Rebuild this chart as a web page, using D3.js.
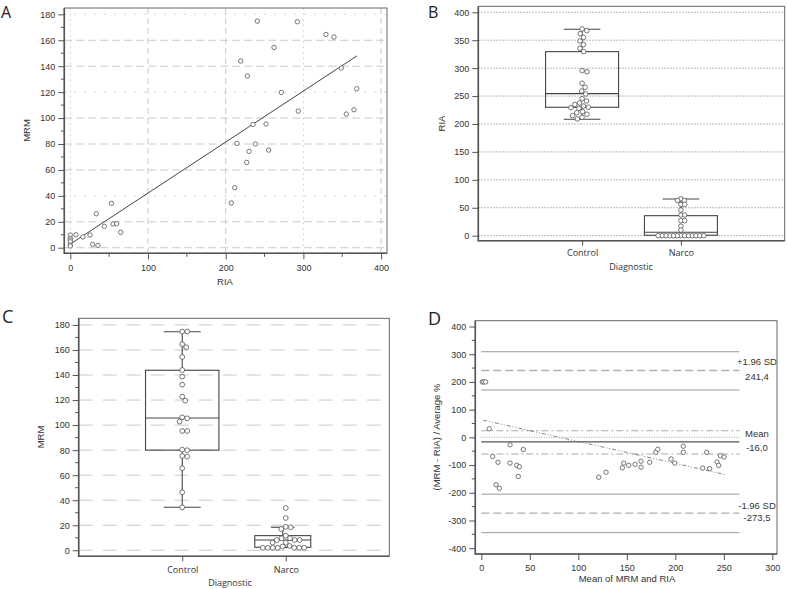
<!DOCTYPE html>
<html><head><meta charset="utf-8">
<script src="https://cdn.jsdelivr.net/npm/d3@7"></script>
<style>body{margin:0;background:#fff}</style>
</head><body>
<svg id="c" width="787" height="589" xmlns="http://www.w3.org/2000/svg"></svg>
<script>
// ---------------- DATA ----------------
// Panel A: scatter MRM vs RIA
const scatterRIA = [240.7,292.2,329,339.4,262.2,219.3,348.8,227.8,368.6,271.6,293.4,365.1,355.2,235.1,251.9,214.5,238.1,230,255.3,227,211.6,207.2,
  52.8,33.5,55,59.7,43.8,64.9,25.4,16.3,7.3,0,0,0,0,0,0,28.8,35.6];
const scatterMRM = [174.8,174.3,164.5,162.5,154.5,144,138.6,132.4,122.6,119.8,105.4,106.4,103.1,95.1,95.4,80.5,80,74.3,75.3,65.8,46.3,34.5,
  34.2,26.2,18.3,18.5,16.5,11.9,9.8,8.3,10,9.8,7.2,5.9,4.6,2.1,1.3,2.6,1.8];
const regA = {x0: 0, y0: 2.8, x1: 369, y1: 148};
const tickA_x = [0,100,200,300,400];
const tickA_y = [0,20,40,60,80,100,120,140,160,180];

// Panel B: RIA by diagnostic
const categories = ["Control","Narco"];
const riaControl = [370,367,361.7,355,348.6,342,335.5,329.5,295.5,293.6,272.9,265.7,259,253.7,245.3,241.2,237.6,235,232,230,229.2,228,222,220,217.4,215,212,209];
const riaNarco = [66,63,63,56,56,46,37,37,27,27,17,10,0,0,0,0,0,0,0,0,0,0,0,0,0];
const riaBox = [ {cat:"Control", min:208.4, q1:229.9, med:254.3, q3:329.5, max:369.6},
                 {cat:"Narco",   min:0,     q1:0.8,   med:6,     q3:35.8,  max:65.7} ];
const tickB_y = [0,50,100,150,200,250,300,350,400];

// Panel C: MRM by diagnostic
const mrmControl = [174.7,174.7,164.6,162.2,154.4,144,138.7,132.3,122.7,119.5,106.2,105.4,102.8,95.3,95.3,80.4,79.9,75.3,74.8,65.5,46.3,34.3];
const mrmNarco = [33.8,25.8,18.7,18.4,17,11.7,9.6,9.6,8.2,8.2,8.2,6.1,6.1,2,2,2,2,2,2,2,3,3.5];
const mrmBox = [ {cat:"Control", min:34.4, q1:80,  med:105.7, q3:143.8, max:174.6},
                 {cat:"Narco",   min:2.4,  q1:2.4, med:8.2,   q3:11.7,  max:18.4} ];
const tickC_y = [0,20,40,60,80,100,120,140,160,180];

// Panel D: Bland-Altman
const baMean = [1,2.5,4.5,8.2,29.6,43.3,11.7,17.2,29.6,36.5,39.2,38.1,15.2,18.6,
  121,128.6,145.4,146.8,152,158.5,164.6,164.6,173.6,179.8,181.9,195.6,199.4,208.2,208.2,228.2,235.4,232.3,243,244.7,246.4,250.2];
const baDiff = [200,200,200,31,-27,-44,-69,-90,-93,-101,-106,-141,-171,-184,
  -144,-126,-110,-93,-101,-97.5,-108,-86,-90,-54,-43,-78,-93,-32,-54,-111,-113,-54,-89,-101,-66,-71];
const baLevels = {ciUpHi:309, upper:241.4, ciUpLo:171, ciMeanHi:24, zero:0, mean:-16.0, ciMeanLo:-60, ciLoHi:-205, lower:-273.5, ciLoLo:-344};
const baLineEnd = 266;
const regD = {x0: 2, y0: 62, x1: 250.5, y1: -133.6};
const tickD_x = [0,50,100,150,200,250,300];
const tickD_y = [-400,-300,-200,-100,0,100,200,300,400];

// ---------------- DRAWING ----------------
const svg = d3.select("#c");
const TICKFONT = "'Liberation Sans', Arial, sans-serif";
const LABFONT = "'Liberation Sans', Arial, sans-serif";
const AX = "#555";
const plain = d => String(d);

function styleAxis(g, fs) {
  g.select(".domain").remove();
  g.selectAll(".tick line").attr("stroke", AX).attr("stroke-width", 1);
  g.selectAll(".tick text").attr("fill", "#333").style("font-family", TICKFONT).style("font-size", (fs||9) + "px");
}
function frame(x0, y0, x1, y1) {
  svg.append("rect").attr("x", x0).attr("y", y0).attr("width", x1 - x0).attr("height", y1 - y0)
    .attr("fill", "none").attr("stroke", "#666").attr("stroke-width", 1);
  svg.append("line").attr("x1", x0).attr("x2", x0).attr("y1", y0).attr("y2", y1 + 0.5).attr("stroke", AX).attr("stroke-width", 1.6);
  svg.append("line").attr("x1", x0 - 0.5).attr("x2", x1).attr("y1", y1).attr("y2", y1).attr("stroke", AX).attr("stroke-width", 1.6);
}
function letter(t, x, y, fs) {
  svg.append("text").attr("x", x).attr("y", y).text(t)
    .style("font-family", "'Open Sans', sans-serif").style("font-size", fs + "px").attr("fill", "#222");
}
function label(t, x, y, rot, font) {
  const el = svg.append("text").text(t).attr("text-anchor", "middle").attr("dominant-baseline", "central")
    .style("font-family", font || LABFONT).style("font-size", font ? "9px" : "9.5px").attr("fill", "#333");
  if (rot) el.attr("transform", `translate(${x},${y}) rotate(-90)`); else el.attr("x", x).attr("y", y);
}
function minorTicks(scale, vals, x, y, orient, len) {
  vals.forEach(v => {
    if (orient === "left") svg.append("line").attr("x1", x - len).attr("x2", x).attr("y1", scale(v)).attr("y2", scale(v)).attr("stroke", AX);
    else svg.append("line").attr("y1", y).attr("y2", y + len).attr("x1", scale(v)).attr("x2", scale(v)).attr("stroke", AX);
  });
}
// beeswarm placement
function dodge(values, yScale, dist) {
  const pts = values.map(v => ({v, y: yScale(v)})).sort((a, b) => a.y - b.y);
  const placed = [];
  for (const p of pts) {
    const cands = [0];
    for (const q of placed) {
      const dy = Math.abs(q.y - p.y);
      if (dy < dist) { const dx = Math.sqrt(dist * dist - dy * dy); cands.push(q.dx + dx, q.dx - dx); }
    }
    cands.sort((a, b) => Math.abs(a) - Math.abs(b));
    for (const c of cands) {
      if (placed.every(q => (q.dx - c) ** 2 + (q.y - p.y) ** 2 >= dist * dist - 1e-6)) { p.dx = c; break; }
    }
    placed.push(p);
  }
  return placed;
}
function circles(data, cx, cy, r) {
  svg.append("g").selectAll("circle").data(data).join("circle")
    .attr("cx", cx).attr("cy", cy).attr("r", r)
    .attr("fill", "#fff").attr("stroke", "#555").attr("stroke-width", 0.8);
}
function boxes(stats, x, y, halfW, capW) {
  const g = svg.append("g").attr("stroke", "#444").attr("fill", "none").attr("stroke-width", 1.1);
  stats.forEach(s => {
    const cx = x(s.cat);
    g.append("line").attr("x1", cx).attr("x2", cx).attr("y1", y(s.max)).attr("y2", y(s.q3));
    g.append("line").attr("x1", cx).attr("x2", cx).attr("y1", y(s.q1)).attr("y2", y(s.min));
    g.append("line").attr("x1", cx - capW).attr("x2", cx + capW).attr("y1", y(s.max)).attr("y2", y(s.max));
    g.append("line").attr("x1", cx - capW).attr("x2", cx + capW).attr("y1", y(s.min)).attr("y2", y(s.min));
    g.append("rect").attr("x", cx - halfW).attr("width", 2 * halfW).attr("y", y(s.q3)).attr("height", y(s.q1) - y(s.q3));
    g.append("line").attr("x1", cx - halfW).attr("x2", cx + halfW).attr("y1", y(s.med)).attr("y2", y(s.med));
  });
}

// ===== Panel A =====
{
  const L = 64.3, R = 387, T = 8, B = 253.3;
  const x = d3.scaleLinear().domain([-7.7, 407.6]).range([L, R]);
  const y = d3.scaleLinear().domain([-4.3, 184.9]).range([B, T]);
  const dottedY = new Set([40, 120, 180]);
  svg.append("g").selectAll("line").data(tickA_y).join("line")
    .attr("x1", L).attr("x2", R).attr("y1", d => y(d)).attr("y2", d => y(d))
    .attr("stroke", "#bdbdbd").attr("stroke-width", 0.8)
    .attr("stroke-dasharray", d => dottedY.has(d) ? "2,8" : "8,4");
  const dottedX = new Set([0, 300]);
  svg.append("g").selectAll("line").data(tickA_x).join("line")
    .attr("y1", T).attr("y2", B).attr("x1", d => x(d)).attr("x2", d => x(d))
    .attr("stroke", "#bdbdbd").attr("stroke-width", 0.8)
    .attr("stroke-dasharray", d => dottedX.has(d) ? "1.5,4" : "6,4");
  svg.append("line").attr("x1", x(regA.x0)).attr("y1", y(regA.y0)).attr("x2", x(regA.x1)).attr("y2", y(regA.y1))
    .attr("stroke", "#444").attr("stroke-width", 1);
  circles(scatterRIA.map((d, i) => [d, scatterMRM[i]]), d => x(d[0]), d => y(d[1]), 2.2);
  frame(L, T, R, B);
  svg.append("g").attr("transform", `translate(${L},0)`).call(d3.axisLeft(y).tickValues(tickA_y).tickFormat(plain).tickSize(6).tickPadding(3)).call(styleAxis);
  svg.append("g").attr("transform", `translate(0,${B})`).call(d3.axisBottom(x).tickValues(tickA_x).tickFormat(plain).tickSize(6).tickPadding(5)).call(styleAxis);
  minorTicks(y, d3.range(10, 180, 20), L, 0, "left", 3.5);
  minorTicks(x, [50, 150, 250, 350], 0, B, "bottom", 3.5);
  label("RIA", 225, 281.5);
  label("MRM", 26.5, 130.5, true);
  letter("A", 1, 18, 16);
}

// ===== Panel B =====
{
  const L = 478.3, R = 784.7, T = 6.3, B = 240.7;
  const x = d3.scalePoint().domain(categories).range([L, R]).padding(1.05);
  const y = d3.scaleLinear().domain([-9, 410.7]).range([B, T]);
  svg.append("g").selectAll("line").data(tickB_y).join("line")
    .attr("x1", L).attr("x2", R).attr("y1", d => y(d)).attr("y2", d => y(d))
    .attr("stroke", "#8a8a8a").attr("stroke-width", 0.8).attr("stroke-dasharray", "1.5,1.5");
  boxes(riaBox, x, y, 36.5, 18.3);
  const r = 2.3;
  circles(dodge(riaControl, y, 5), d => x("Control") + d.dx, d => d.y, r);
  circles(dodge(riaNarco, y, 3.8), d => x("Narco") + d.dx, d => d.y, r);
  frame(L, T, R, B);
  svg.append("g").attr("transform", `translate(${L},0)`).call(d3.axisLeft(y).tickValues(tickB_y).tickFormat(plain).tickSize(6).tickPadding(3)).call(styleAxis);
  const gx = svg.append("g").attr("transform", `translate(0,${B})`).call(d3.axisBottom(x).tickSize(5).tickPadding(4)).call(styleAxis);
  gx.selectAll(".tick text").style("font-family", "'Open Sans', sans-serif").style("font-size", "9px");
  label("Diagnostic", 631, 266.7, false, "'Open Sans', sans-serif");
  label("RIA", 441.7, 123.5, true);
  letter("B", 428, 18, 16);
}

// ===== Panel C =====
{
  const L = 78.7, R = 389.3, T = 318.3, B = 556.3;
  const x = d3.scalePoint().domain(categories).range([L, R]).padding(1);
  const y = d3.scaleLinear().domain([-4.8, 185.3]).range([B, T]);
  svg.append("g").selectAll("line").data(tickC_y).join("line")
    .attr("x1", L).attr("x2", R).attr("y1", d => y(d)).attr("y2", d => y(d))
    .attr("stroke", "#c4c4c4").attr("stroke-width", 0.9).attr("stroke-dasharray", "14,10");
  boxes(mrmBox.slice(0, 1), x, y, 36.7, 18.5);
  boxes(mrmBox.slice(1), d => x(d) - 3, y, 28, 11.8);
  circles(dodge(mrmControl, y, 5), d => x("Control") + d.dx, d => d.y, 2.4);
  circles(dodge(mrmNarco, y, 5), d => x("Narco") + d.dx, d => d.y, 2.4);
  frame(L, T, R, B);
  svg.append("g").attr("transform", `translate(${L},0)`).call(d3.axisLeft(y).tickValues(tickC_y).tickFormat(plain).tickSize(6).tickPadding(3)).call(styleAxis);
  minorTicks(y, d3.range(10, 180, 20), L, 0, "left", 3.5);
  const gx = svg.append("g").attr("transform", `translate(0,${B})`).call(d3.axisBottom(x).tickSize(5).tickPadding(5)).call(styleAxis);
  gx.selectAll(".tick text").style("font-family", "'Open Sans', sans-serif").style("font-size", "9px");
  label("Diagnostic", 230, 582, false, "'Open Sans', sans-serif");
  label("MRM", 40.7, 437, true);
  letter("C", 2, 323, 18);
}

// ===== Panel D =====
{
  const L = 475.3, R = 777, T = 320.7, B = 554;
  const x = d3.scaleLinear().domain([-6.2, 304.8]).range([L, R]);
  const y = d3.scaleLinear().domain([-421, 421]).range([B, T]);
  const lv = baLevels;
  const hl = (v, col, w, dash) => svg.append("line").attr("x1", x(0)).attr("x2", x(baLineEnd)).attr("y1", y(v)).attr("y2", y(v))
      .attr("stroke", col).attr("stroke-width", w).attr("stroke-dasharray", dash);
  hl(lv.ciUpHi, "#9a9a9a", 1, null);
  hl(lv.upper, "#b0b0b0", 1.4, "8,4");
  hl(lv.ciUpLo, "#9a9a9a", 1, null);
  hl(lv.ciMeanHi, "#aaaaaa", 1.1, "7,3,2,3");
  hl(lv.zero, "#999", 0.9, "1,1.5");
  hl(lv.mean, "#555", 1.2, null);
  hl(lv.ciMeanLo, "#aaaaaa", 1.1, "7,3,2,3");
  hl(lv.ciLoHi, "#9a9a9a", 1, null);
  hl(lv.lower, "#b0b0b0", 1.4, "8,4");
  hl(lv.ciLoLo, "#9a9a9a", 1, null);
  svg.append("line").attr("x1", x(regD.x0)).attr("y1", y(regD.y0)).attr("x2", x(regD.x1)).attr("y2", y(regD.y1))
    .attr("stroke", "#666").attr("stroke-width", 0.8).attr("stroke-dasharray", "4,2,1,2,1,2");
  circles(baMean.map((d, i) => [d, baDiff[i]]), d => x(d[0]), d => y(d[1]), 2.2);
  const fmt = v => v.toFixed(1).replace(".", ",");
  const lab = (t, v, off) => svg.append("text").attr("x", 757).attr("y", y(v) + off).text(t)
      .attr("text-anchor", "middle").attr("dominant-baseline", "central")
      .style("font-family", LABFONT).style("font-size", "9.5px").attr("fill", "#333");
  lab("+1.96 SD", lv.upper, -8.5); lab(fmt(lv.upper), lv.upper, 5.8);
  lab("Mean", lv.mean, -8); lab(fmt(lv.mean), lv.mean, 5.6);
  lab("-1.96 SD", lv.lower, -8); lab(fmt(lv.lower), lv.lower, 4.5);
  frame(L, T, R, B);
  svg.append("g").attr("transform", `translate(${L},0)`).call(d3.axisLeft(y).tickValues(tickD_y).tickFormat(plain).tickSize(6).tickPadding(3)).call(styleAxis);
  minorTicks(y, d3.range(-350, 400, 100), L, 0, "left", 3.5);
  svg.append("g").attr("transform", `translate(0,${B})`).call(d3.axisBottom(x).tickValues(tickD_x).tickFormat(plain).tickSize(6).tickPadding(5)).call(styleAxis);
  label("Mean of MRM and RIA", 627, 578);
  label("(MRM - RIA) / Average %", 436.7, 437, true);
  letter("D", 428, 325, 18);
}
</script>
</body></html>
